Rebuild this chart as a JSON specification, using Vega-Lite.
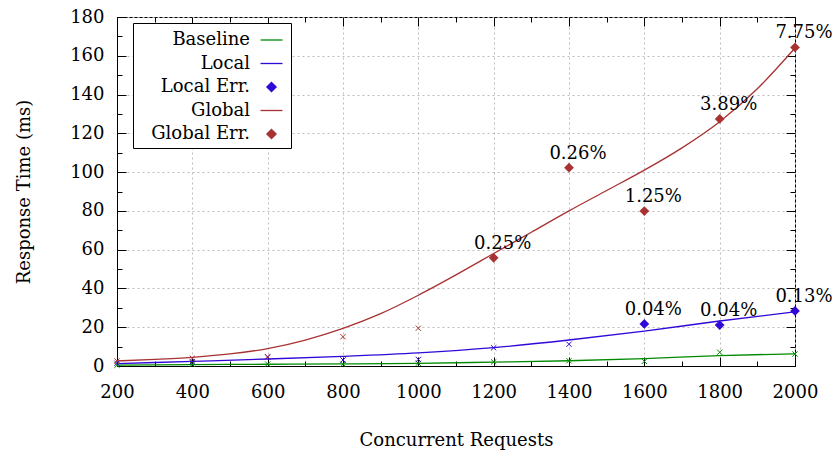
{
  "$schema": "https://vega.github.io/schema/vega-lite/v6.json",
  "width": 678,
  "height": 349,
  "autosize": {"type": "none"},
  "padding": {"left": 117, "top": 17, "right": 42, "bottom": 88},
  "background": "white",
  "config": {
    "view": {"stroke": "#000", "strokeWidth": 1},
    "font": "DejaVu Serif",
    "text": {"font": "DejaVu Serif"},
    "legend": {"labelFont": "DejaVu Serif", "titleFont": "DejaVu Serif"},
    "axis": {
      "labelFont": "DejaVu Serif",
      "titleFont": "DejaVu Serif",
      "labelFontSize": 18,
      "titleFontSize": 18,
      "titleFontWeight": "normal",
      "labelColor": "#000",
      "titleColor": "#000",
      "domainColor": "#000",
      "tickColor": "#000",
      "labelFlush": false,
      "labelOverlap": false
    }
  },
  "data": {
    "values": [
      {"series": "Baseline", "kind": "fit", "x": 200, "y": 0.5},
      {"series": "Baseline", "kind": "fit", "x": 400, "y": 0.7},
      {"series": "Baseline", "kind": "fit", "x": 600, "y": 0.9},
      {"series": "Baseline", "kind": "fit", "x": 800, "y": 1.1},
      {"series": "Baseline", "kind": "fit", "x": 1000, "y": 1.4},
      {"series": "Baseline", "kind": "fit", "x": 1200, "y": 2.0},
      {"series": "Baseline", "kind": "fit", "x": 1400, "y": 2.7},
      {"series": "Baseline", "kind": "fit", "x": 1600, "y": 3.8},
      {"series": "Baseline", "kind": "fit", "x": 1800, "y": 5.4},
      {"series": "Baseline", "kind": "fit", "x": 2000, "y": 6.3},
      {"series": "Local", "kind": "fit", "x": 200, "y": 1.2},
      {"series": "Local", "kind": "fit", "x": 400, "y": 2.4},
      {"series": "Local", "kind": "fit", "x": 600, "y": 3.6},
      {"series": "Local", "kind": "fit", "x": 800, "y": 5.0},
      {"series": "Local", "kind": "fit", "x": 1000, "y": 6.8},
      {"series": "Local", "kind": "fit", "x": 1200, "y": 9.5},
      {"series": "Local", "kind": "fit", "x": 1400, "y": 13.4},
      {"series": "Local", "kind": "fit", "x": 1600, "y": 18.0},
      {"series": "Local", "kind": "fit", "x": 1800, "y": 23.2},
      {"series": "Local", "kind": "fit", "x": 2000, "y": 28.0},
      {"series": "Global", "kind": "fit", "x": 200, "y": 2.6},
      {"series": "Global", "kind": "fit", "x": 300, "y": 3.4},
      {"series": "Global", "kind": "fit", "x": 400, "y": 4.5},
      {"series": "Global", "kind": "fit", "x": 500, "y": 6.2},
      {"series": "Global", "kind": "fit", "x": 600, "y": 9.0},
      {"series": "Global", "kind": "fit", "x": 700, "y": 13.4},
      {"series": "Global", "kind": "fit", "x": 800, "y": 19.4},
      {"series": "Global", "kind": "fit", "x": 900, "y": 27.0},
      {"series": "Global", "kind": "fit", "x": 1000, "y": 36.5},
      {"series": "Global", "kind": "fit", "x": 1100, "y": 47.0},
      {"series": "Global", "kind": "fit", "x": 1200, "y": 58.0},
      {"series": "Global", "kind": "fit", "x": 1300, "y": 69.0},
      {"series": "Global", "kind": "fit", "x": 1400, "y": 80.0},
      {"series": "Global", "kind": "fit", "x": 1500, "y": 90.5},
      {"series": "Global", "kind": "fit", "x": 1600, "y": 101.0},
      {"series": "Global", "kind": "fit", "x": 1700, "y": 112.5},
      {"series": "Global", "kind": "fit", "x": 1800, "y": 126.0},
      {"series": "Global", "kind": "fit", "x": 1900, "y": 143.0},
      {"series": "Global", "kind": "fit", "x": 2000, "y": 164.0},
      {"series": "Baseline", "kind": "raw", "x": 200, "y": 0.4},
      {"series": "Baseline", "kind": "raw", "x": 400, "y": 0.9},
      {"series": "Baseline", "kind": "raw", "x": 600, "y": 1.0},
      {"series": "Baseline", "kind": "raw", "x": 800, "y": 0.9},
      {"series": "Baseline", "kind": "raw", "x": 1000, "y": 1.4},
      {"series": "Baseline", "kind": "raw", "x": 1200, "y": 2.1},
      {"series": "Baseline", "kind": "raw", "x": 1400, "y": 2.7},
      {"series": "Baseline", "kind": "raw", "x": 1600, "y": 2.4},
      {"series": "Baseline", "kind": "raw", "x": 1800, "y": 7.1},
      {"series": "Baseline", "kind": "raw", "x": 2000, "y": 6.2},
      {"series": "Local", "kind": "raw", "x": 200, "y": 1.4},
      {"series": "Local", "kind": "raw", "x": 400, "y": 2.2},
      {"series": "Local", "kind": "raw", "x": 600, "y": 4.6},
      {"series": "Local", "kind": "raw", "x": 800, "y": 3.1},
      {"series": "Local", "kind": "raw", "x": 1000, "y": 3.4},
      {"series": "Local", "kind": "raw", "x": 1200, "y": 9.4},
      {"series": "Local", "kind": "raw", "x": 1400, "y": 11.2},
      {"series": "Global", "kind": "raw", "x": 200, "y": 2.6},
      {"series": "Global", "kind": "raw", "x": 400, "y": 4.0},
      {"series": "Global", "kind": "raw", "x": 600, "y": 4.8},
      {"series": "Global", "kind": "raw", "x": 800, "y": 15.1},
      {"series": "Global", "kind": "raw", "x": 1000, "y": 19.5},
      {"series": "Local Err.", "kind": "err", "x": 1600, "y": 21.7, "label": "0.04%"},
      {"series": "Local Err.", "kind": "err", "x": 1800, "y": 21.1, "label": "0.04%"},
      {"series": "Local Err.", "kind": "err", "x": 2000, "y": 28.4, "label": "0.13%"},
      {"series": "Global Err.", "kind": "err", "x": 1200, "y": 55.8, "label": "0.25%"},
      {"series": "Global Err.", "kind": "err", "x": 1400, "y": 102.3, "label": "0.26%"},
      {"series": "Global Err.", "kind": "err", "x": 1600, "y": 79.9, "label": "1.25%"},
      {"series": "Global Err.", "kind": "err", "x": 1800, "y": 127.4, "label": "3.89%"},
      {"series": "Global Err.", "kind": "err", "x": 2000, "y": 164.3, "label": "7.75%"}
    ]
  },
  "resolve": {"axis": {"x": "independent", "y": "independent"}},
  "layer": [
    {
      "transform": [{"filter": "datum.kind === 'fit'"}],
      "mark": {"type": "line", "interpolate": "monotone", "strokeWidth": 1.3},
      "encoding": {
        "x": {
          "field": "x", "type": "quantitative",
          "scale": {"domain": [200, 2000], "nice": false, "zero": false},
          "axis": {
            "orient": "bottom",
            "title": "Concurrent Requests",
            "labelFont": "DejaVu Serif",
            "titleFont": "DejaVu Serif",
            "values": [200, 300, 400, 500, 600, 700, 800, 900, 1000, 1100, 1200, 1300, 1400, 1500, 1600, 1700, 1800, 1900, 2000],
            "format": "d",
            "labelExpr": "datum.value % 200 === 0 ? datum.label : ''",
            "tickSize": {"condition": {"test": "datum.value % 200 === 0", "value": -9}, "value": -5},
            "grid": true,
            "gridOpacity": {"condition": {"test": "datum.value % 200 === 0", "value": 1}, "value": 0},
            "gridDash": [2, 3],
            "gridColor": "#bdbdbd",
            "labelPadding": 26,
            "titlePadding": 26
          }
        },
        "y": {
          "field": "y", "type": "quantitative",
          "scale": {"domain": [0, 180], "nice": false},
          "axis": {
            "orient": "left",
            "title": "Response Time (ms)",
            "labelFont": "DejaVu Serif",
            "titleFont": "DejaVu Serif",
            "values": [0, 10, 20, 30, 40, 50, 60, 70, 80, 90, 100, 110, 120, 130, 140, 150, 160, 170, 180],
            "labelExpr": "datum.value % 20 === 0 ? datum.label : ''",
            "tickSize": {"condition": {"test": "datum.value % 20 === 0", "value": -9}, "value": -5},
            "grid": true,
            "gridOpacity": {"condition": {"test": "datum.value % 20 === 0", "value": 1}, "value": 0},
            "gridDash": [2, 3],
            "gridColor": "#bdbdbd",
            "labelPadding": 22,
            "titlePadding": 36
          }
        },
        "color": {
          "field": "series", "type": "nominal",
          "scale": {
            "domain": ["Baseline", "Local", "Local Err.", "Global", "Global Err."],
            "range": ["#008a00", "#3008d8", "#3008d8", "#a83232", "#a83232"]
          },
          "legend": {
            "orient": "none",
            "legendX": 16,
            "legendY": 6,
            "title": null,
            "labelFont": "DejaVu Serif",
            "labelFontSize": 18,
            "labelColor": "#000",
            "labelAlign": "right",
            "labelOffset": -33.5,
            "symbolOffset": 121.5,
            "symbolSize": 484,
            "symbolStrokeWidth": 1.3,
            "strokeColor": "#000",
            "fillColor": "#fff",
            "padding": 5,
            "rowPadding": 2.5,
            "labelLimit": 300,
            "encode": {
              "symbols": {
                "update": {
                  "shape": {"signal": "indexof(datum.value, 'Err') >= 0 ? 'M0,-0.42L0.42,0L0,0.42L-0.42,0Z' : 'M-1,0H1'"},
                  "fill": {"signal": "indexof(datum.value, 'Err') >= 0 ? scale('color', datum.value) : 'transparent'"},
                  "stroke": {"signal": "indexof(datum.value, 'Err') >= 0 ? 'transparent' : scale('color', datum.value)"},
                  "opacity": {"value": 1}
                }
              }
            }
          }
        },
        "detail": {"field": "series"}
      }
    },
    {
      "transform": [{"filter": "datum.kind === 'raw'"}],
      "mark": {"type": "point", "shape": "M-1,-1L1,1M-1,1L1,-1", "filled": false, "size": 28, "strokeWidth": 1, "opacity": 1},
      "encoding": {
        "x": {"field": "x", "type": "quantitative", "axis": null},
        "y": {"field": "y", "type": "quantitative", "axis": null},
        "color": {"field": "series", "type": "nominal", "legend": null}
      }
    },
    {
      "transform": [{"filter": "datum.kind === 'err'"}],
      "mark": {"type": "point", "shape": "diamond", "filled": true, "size": 95, "opacity": 1},
      "encoding": {
        "x": {
          "field": "x", "type": "quantitative",
          "axis": {
            "orient": "top", "title": null, "labels": false, "grid": false, "domain": false,
            "values": [200, 300, 400, 500, 600, 700, 800, 900, 1000, 1100, 1200, 1300, 1400, 1500, 1600, 1700, 1800, 1900, 2000],
            "tickSize": {"condition": {"test": "datum.value % 200 === 0", "value": -9}, "value": -5}
          }
        },
        "y": {
          "field": "y", "type": "quantitative",
          "axis": {
            "orient": "right", "title": null, "labels": false, "grid": false, "domain": false,
            "values": [0, 10, 20, 30, 40, 50, 60, 70, 80, 90, 100, 110, 120, 130, 140, 150, 160, 170, 180],
            "tickSize": {"condition": {"test": "datum.value % 20 === 0", "value": -9}, "value": -5}
          }
        },
        "color": {"field": "series", "type": "nominal", "legend": null}
      }
    },
    {
      "transform": [{"filter": "datum.kind === 'err'"}],
      "mark": {"type": "text", "font": "DejaVu Serif", "fontSize": 18, "color": "#000", "dx": 9, "dy": -9, "baseline": "alphabetic", "align": "center"},
      "encoding": {
        "x": {"field": "x", "type": "quantitative", "axis": null},
        "y": {"field": "y", "type": "quantitative", "axis": null},
        "text": {"field": "label"}
      }
    }
  ]
}
